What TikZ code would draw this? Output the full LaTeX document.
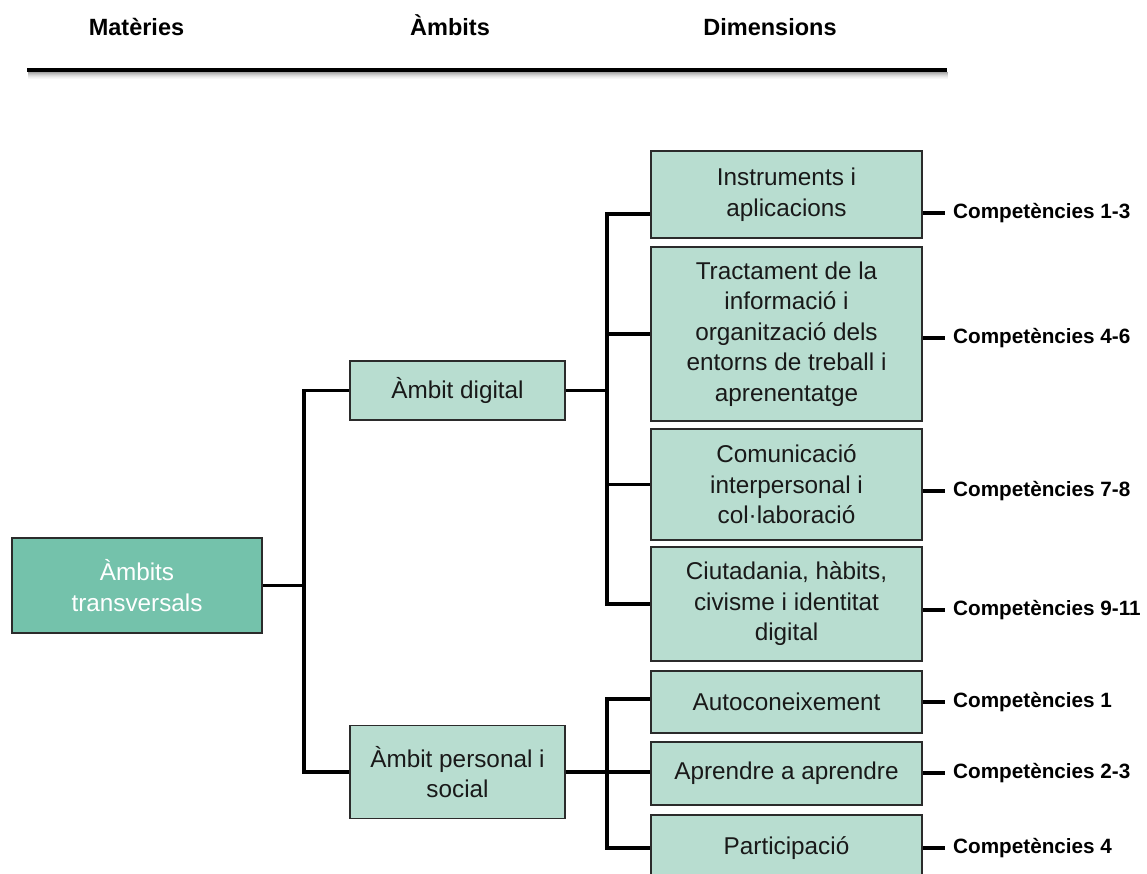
\documentclass[tikz,border=0pt]{standalone}
\usepackage{fontspec}
\setmainfont{Liberation Sans}
\definecolor{rootgreen}{HTML}{74C2AB}
\definecolor{lightgreen}{HTML}{B8DDD0}
\definecolor{boxline}{HTML}{2B2B2B}
\tikzset{
  box/.style={draw=boxline, line width=1.6pt, fill=lightgreen, align=center,
    inner sep=0pt, font=\fontsize{24.3}{30.5}\selectfont, text=black!90},
  rootbox/.style={box, fill=rootgreen, text=white},
  conn/.style={line width=3.2pt, black},
  lab/.style={anchor=west, inner xsep=8pt, inner ysep=0pt,
    font=\bfseries\fontsize{20.7}{24}\selectfont},
  head/.style={anchor=base, inner sep=0pt, font=\bfseries\fontsize{23.5}{28}\selectfont}
}
\begin{document}
\begin{tikzpicture}[x=1pt, y=-1pt]
\useasboundingbox (0,0) rectangle (1147,873);
% headers
\node[head] (h1) at (136.5,35) {Matèries};
\node[head] (h2) at (450,35) {Àmbits};
\node[head] (h3) at (770,35) {Dimensions};
\coordinate (hl) at (27,70);
\coordinate (hr) at (947,70);
\foreach \i/\o in {1/0.35,2/0.28,3/0.21,4/0.15,5/0.10,6/0.06,7/0.03}
  \draw[black, opacity=\o, line width=1pt] ([shift={(1,1.5+\i)}]hl) -- ([shift={(1,1.5+\i)}]hr);
\draw[line width=4.2pt] (hl) -- (hr);
% boxes
\node[rootbox, minimum width=250pt, minimum height=95pt] (root) at (137,585.5) {Àmbits\\transversals};
\node[box, minimum width=215pt, minimum height=59pt] (dig) at (457.5,390.5) {Àmbit digital};
\node[box, minimum width=215pt, minimum height=93pt] (pers) at (457.5,772) {Àmbit personal i\\social};
\node[box, minimum width=271pt, minimum height=87pt] (inst) at (786.5,194.5) {Instruments i\\aplicacions};
\node[box, minimum width=271pt, minimum height=174pt] (trac) at (786.5,334) {Tractament de la\\informació i\\organització dels\\entorns de treball i\\aprenentatge};
\node[box, minimum width=271pt, minimum height=111pt] (com) at (786.5,484.5) {Comunicació\\interpersonal i\\col·laboració};
\node[box, minimum width=271pt, minimum height=114pt] (ciut) at (786.5,604) {Ciutadania, hàbits,\\civisme i identitat\\digital};
\node[box, minimum width=271pt, minimum height=62pt] (auto) at (786.5,702) {Autoconeixement};
\node[box, minimum width=271pt, minimum height=63pt] (apr) at (786.5,773.5) {Aprendre a aprendre};
\node[box, minimum width=271pt, minimum height=66pt] (part) at (786.5,848) {Participació};
% tree connectors
\coordinate (b0) at (304,586);
\draw[conn] (root.east) -- (root.east -| b0);
\draw[conn] (dig.west) -- (dig.west -| b0) -- (pers.west -| b0) -- (pers.west);
\coordinate (b1) at (607,214);
\draw[conn] (inst.west |- b1) -- (b1) |- (ciut.west);
\draw[conn] (trac.west) -- (trac.west -| b1);
\draw[conn] (com.west) -- (com.west -| b1);
\draw[conn] (dig.east) -- (dig.east -| b1);
\draw[conn] (pers.east) -- (pers.east -| apr.west);
\coordinate (b2) at (607,699);
\draw[conn] (auto.west |- b2) -- (b2) |- (part.west);
% labels
\node[lab] (l1) at (945,213) {Competències 1-3};
\node[lab] (l2) at (945,338) {Competències 4-6};
\node[lab] (l3) at (945,491) {Competències 7-8};
\node[lab] (l4) at (945,610) {Competències 9-11};
\node[lab] (l5) at (945,702) {Competències 1};
\node[lab] (l6) at (945,773) {Competències 2-3};
\node[lab] (l7) at (945,848) {Competències 4};
\draw[conn] (inst.east |- l1.west) -- (l1.west);
\draw[conn] (trac.east |- l2.west) -- (l2.west);
\draw[conn] (com.east |- l3.west) -- (l3.west);
\draw[conn] (ciut.east |- l4.west) -- (l4.west);
\draw[conn] (auto.east |- l5.west) -- (l5.west);
\draw[conn] (apr.east |- l6.west) -- (l6.west);
\draw[conn] (part.east |- l7.west) -- (l7.west);
\end{tikzpicture}
\end{document}
